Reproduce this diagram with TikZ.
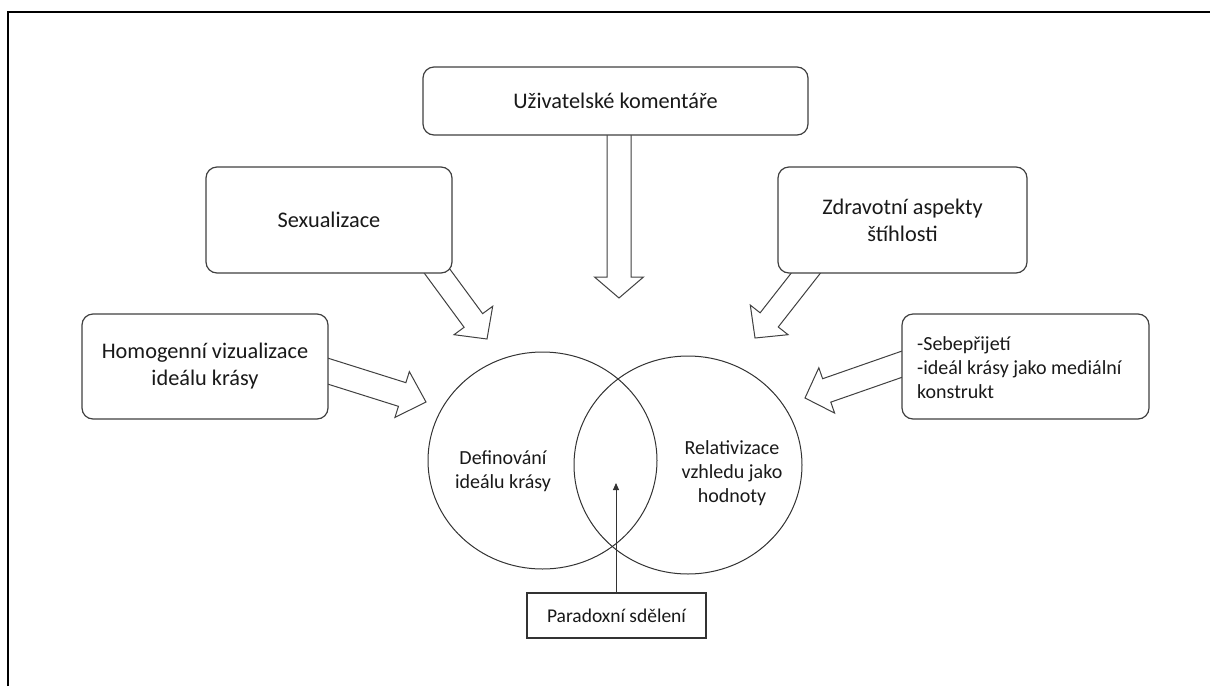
\documentclass[tikz,border=0pt]{standalone}
\usepackage{fontspec}
\setmainfont{Carlito}
\usetikzlibrary{shapes.geometric,calc,arrows.meta}
\newcommand\blockarr[5]{%
  \coordinate (hb) at ($(#2)!#5!(#1)$);
  \draw[blockarrow] ($(#1)!#3!90:(#2)$) -- ($(hb)!#3!-90:(#1)$) -- ($(hb)!#4!-90:(#1)$) -- (#2) -- ($(hb)!#4!90:(#1)$) -- ($(hb)!#3!90:(#1)$) -- ($(#1)!#3!-90:(#2)$) -- cycle;}
\begin{document}
\begin{tikzpicture}[x=1pt,y=-1pt,
  blockarrow/.style={draw=black!75,line width=1pt,fill=white,line join=miter},
  bigbox/.style={draw=black!75,line width=1.2pt,rounded corners=11pt,fill=white,align=center,
    font=\fontsize{22.3}{27}\selectfont,text=black!90,inner sep=0pt},
  smallbox/.style={draw=black!75,line width=1.2pt,rounded corners=11pt,fill=white,
    font=\fontsize{20}{24}\selectfont,text=black!90,inner sep=0pt},
  venn/.style={draw=black!80,line width=1pt,ellipse,inner sep=0pt},
  venntext/.style={align=center,font=\fontsize{20}{24}\selectfont,text=black!90,inner sep=0pt},
  thinarrow/.style={draw=black!80,line width=0.9pt,-{Triangle[length=7pt,width=6pt]}}]
\useasboundingbox (0,0) rectangle (1210,686);
% frame
\draw[line width=2.5pt,black] (8,686) -- (8,12) -- (1210,12);
% block arrow coordinates
\coordinate (a1s) at (619,101);   \coordinate (a1t) at (619,298);
\coordinate (a2s) at (416,242.5); \coordinate (a2t) at (487,339);
\coordinate (a3s) at (829,243.5); \coordinate (a3t) at (755,338);
\coordinate (a4s) at (283,357);   \coordinate (a4t) at (426,402);
\coordinate (a5s) at (946.6,348.6); \coordinate (a5t) at (805,398);
\blockarr{a1s}{a1t}{12pt}{24.5pt}{21pt}
\blockarr{a2s}{a2t}{11.5pt}{24pt}{23pt}
\blockarr{a3s}{a3t}{11.5pt}{24pt}{23pt}
\blockarr{a4s}{a4t}{12.4pt}{24pt}{25pt}
\blockarr{a5s}{a5t}{12.4pt}{24pt}{23pt}
% boxes
\node[bigbox,minimum width=385pt,minimum height=68pt] (ukom) at (615.5,101) {Uživatelské komentáře};
\node[bigbox,minimum width=246pt,minimum height=106pt] (sex) at (329,220) {Sexualizace};
\node[bigbox,minimum width=249pt,minimum height=106pt] (zdr) at (902.5,220) {Zdravotní aspekty\\štíhlosti};
\node[bigbox,minimum width=246pt,minimum height=105pt] (hom) at (205,366.5) {Homogenní vizualizace\\ideálu krásy};
\node[smallbox,minimum width=247pt,minimum height=105pt] (seb) at (1025.5,366.5) {};
\node[venntext,align=left,anchor=west] (sebtext) at (917,368) {-Sebepřijetí\\-ideál krásy jako mediální\\konstrukt};
% venn
\node[venn,minimum width=229pt,minimum height=217pt] (L) at (542.5,460.5) {};
\node[venn,minimum width=228pt,minimum height=218pt] (R) at (688,465) {};
\node[venntext] (deftext) at (503,471) {Definování\\ideálu krásy};
\node[venntext] (reltext) at (732,473.5) {Relativizace\\vzhledu jako\\hodnoty};
% paradox
\node[draw=black!80,line width=1.2pt,fill=white,minimum width=179pt,minimum height=45pt,inner sep=0pt,
  font=\fontsize{19.5}{24}\selectfont,text=black!90] (par) at (616.5,615.5) {Paradoxní sdělení};
\coordinate (partip) at (616,483);
\draw[thinarrow] (par.north -| partip) -- (partip);
\end{tikzpicture}
\end{document}
